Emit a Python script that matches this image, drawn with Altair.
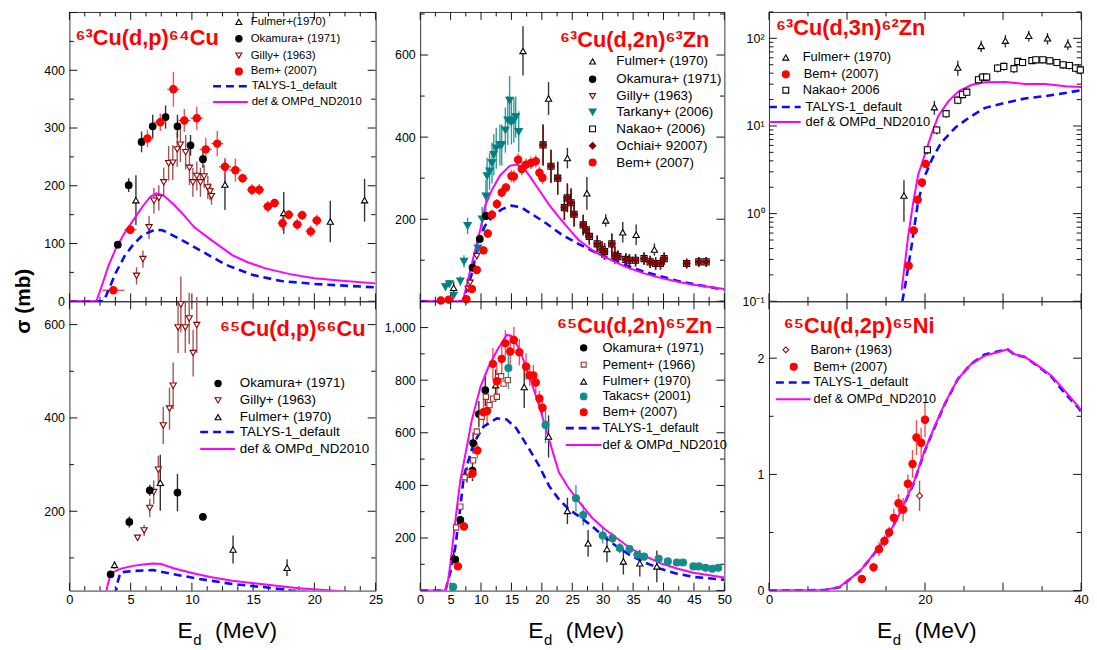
import altair as alt
import pandas as pd

FONT = "Liberation Sans"

# ---------------- Panel A : 63Cu(d,p)64Cu ----------------
A_ful_x = [5.43, 12.7, 17.5, 21.3, 24.1]
A_ful_y = [175, 202, 153, 138, 175]
A_ful_e = [43, 44, 36, 36, 37]
A_oka_x = [3.95, 4.84, 5.89, 6.8, 7.85, 8.82, 9.89, 10.9]
A_oka_y = [98, 201, 276, 303, 319, 303, 270, 246]
A_oka_e = [6, 12, 18, 20, 20, 20, 18, 15]
A_gil_x = [5.48, 6.0, 6.5, 6.9, 7.3, 7.7, 8.1, 8.44, 8.8, 9.06, 9.49, 9.8, 10.08, 10.4, 10.7, 11.0, 11.3, 11.48, 11.6]
A_gil_y = [44, 73, 128, 174, 179, 206, 239, 240, 263, 271, 258, 231, 206, 217, 206, 216, 197, 190, 182]
A_gil_e = [15, 15, 20, 22, 22, 25, 30, 30, 30, 30, 30, 30, 25, 25, 25, 20, 20, 15, 15]
A_bem_x = [3.58, 4.97, 6.37, 7.42, 8.49, 9.38, 10.4, 11.13, 12.07, 12.7, 13.55, 14.14, 14.9, 15.5, 16.2, 16.75, 17.4, 17.9, 18.6, 19.0, 19.7, 20.2]
A_bem_y = [19, 124, 282, 310, 367, 313, 317, 263, 273, 233, 227, 213, 193, 193, 164, 170, 135, 150, 133, 149, 121, 140]
A_bem_e = [6, 8, 15, 15, 30, 20, 20, 20, 22, 15, 20, 8, 10, 10, 10, 8, 12, 8, 10, 8, 10, 10]
A_bem_xe = [0.9, 0.5, 0.5, 0.5, 0.5, 0.5, 0.5, 0.5, 0.5, 0.5, 0.5, 0.4, 0.4, 0.4, 0.4, 0.4, 0.4, 0.4, 0.4, 0.4, 0.4, 0.4]
A_talys_x = [0, 2.8, 3.3, 3.8, 4.5, 5.2, 6.0, 7.0, 7.6, 9.0, 10.6, 12.8, 14.9, 17.3, 20, 25]
A_talys_y = [0, 0, 25, 50, 78, 98, 115, 124, 123, 108, 89, 63, 46, 35, 30, 24]
A_omp_x = [0, 2.2, 2.7, 3.2, 3.8, 4.5, 5.2, 6.0, 6.6, 7.1, 7.7, 8.5, 9.3, 10.2, 11.2, 12.3, 13.3, 14.5, 16, 18, 20, 22, 25]
A_omp_y = [0, 0, 30, 62, 92, 118, 140, 165, 181, 187, 183, 168, 150, 128, 112, 95, 80, 68, 57, 47, 40, 36, 31]

# ---------------- Panel D : 65Cu(d,p)66Cu ----------------
D_oka_x = [3.36, 4.89, 6.56, 8.82, 10.9]
D_oka_y = [65, 177, 245, 240, 188]
D_oka_e = [5, 12, 12, 40, 4]
D_gil_x = [5.56, 6.1, 6.56, 6.88, 7.26, 7.66, 8.17, 8.47, 8.87, 9.1, 9.46, 9.78, 10.1, 10.4]
D_gil_y = [143, 159, 207, 241, 289, 384, 420, 469, 594, 643, 594, 613, 539, 599]
D_gil_e = [5, 12, 20, 25, 30, 40, 45, 50, 55, 60, 55, 55, 50, 60]
D_ful_x = [3.68, 7.42, 13.36, 17.77]
D_ful_y = [85, 261, 118, 79]
D_ful_e = [8, 60, 30, 18]
D_talys_x = [3.75, 3.9, 4.17, 5.2, 6.85, 8.5, 10.6, 13.3, 16, 18.1, 20, 22, 25]
D_talys_y = [20, 45, 69, 72, 74, 65, 55, 44, 37, 30, 25, 20, 15]
D_omp_x = [2.95, 3.1, 3.3, 3.6, 4.2, 5.2, 6.0, 6.85, 7.5, 8.5, 10.1, 11.5, 13.3, 16, 18.7, 21.4, 23, 25]
D_omp_y = [20, 40, 58, 70, 77, 83, 86, 88, 87, 78, 67, 59, 51, 43, 35, 30, 27, 24]

# ---------------- Panel B : 63Cu(d,2n)63Zn ----------------
B_ful_x = [5.5, 16.9, 21.1, 24.2, 27.4, 30.5, 33.3, 35.5, 38.5]
B_ful_y = [33, 610, 494, 349, 263, 197, 168, 162, 126]
B_ful_e = [15, 60, 40, 25, 40, 15, 25, 25, 15]
B_oka_x = [8.6, 9.8, 10.8]
B_oka_y = [82, 152, 208]
B_oka_e = [10, 10, 10]
B_gil_x = [7.9, 8.2, 9.3]
B_gil_y = [30, 45, 110]
B_gil_e = [5, 5, 8]
B_tar_x = [4.15, 4.8, 5.5, 6.6, 7.2, 7.8, 9.5, 10.2, 10.8, 11.0, 11.4, 11.8, 12.1, 12.5, 13.1, 13.4, 14.0, 14.4, 14.7, 15.0, 15.4, 15.7, 16.2]
B_tar_y = [35, 42, 14, 49, 97, 184, 129, 200, 256, 305, 317, 337, 357, 373, 381, 381, 417, 441, 489, 437, 441, 449, 413]
B_tar_e = [10, 10, 8, 12, 15, 20, 20, 30, 40, 45, 45, 50, 50, 50, 50, 50, 55, 60, 60, 55, 55, 50, 50]
B_nak_x = [20.2, 21.5, 22.6, 23.7, 24.2, 24.8, 25.3, 26.8, 27.3, 27.8, 29.1, 29.9, 30.3, 31.5, 32.0, 32.5, 33.8, 34.4, 35.4, 36.8, 37.8, 38.7, 39.5, 40.1, 43.8, 45.8, 47.0]
B_nak_y = [381, 329, 300, 228, 252, 240, 212, 186, 174, 158, 140, 126, 121, 140, 112, 109, 102, 100, 100, 104, 96, 92, 92, 104, 92, 96, 96]
B_nak_e = [50, 40, 40, 30, 35, 35, 30, 25, 20, 20, 20, 20, 20, 25, 20, 15, 15, 15, 15, 15, 15, 15, 15, 15, 12, 12, 12]
B_och_x = [20.2, 21.5, 22.6, 23.7, 24.2, 24.8, 25.3, 26.8, 27.3, 27.8, 29.1, 29.9, 30.3, 31.5, 32.0, 32.5, 33.8, 34.4, 35.4, 36.8, 37.8, 38.7, 39.5, 40.1, 43.8, 45.8, 47.0]
B_och_y = [381, 329, 300, 228, 252, 240, 212, 186, 174, 158, 140, 126, 121, 140, 112, 109, 102, 100, 100, 104, 96, 92, 92, 104, 92, 96, 96]
B_och_e = [50, 40, 40, 30, 35, 35, 30, 25, 20, 20, 20, 20, 20, 25, 20, 15, 15, 15, 15, 15, 15, 15, 15, 15, 12, 12, 12]
B_bem_x = [3.4, 4.7, 7.6, 8.5, 9.3, 10.4, 11.1, 11.8, 12.6, 13.4, 14.1, 15.0, 15.4, 16.1, 16.7, 17.4, 18.2, 19.0, 19.6, 20.1]
B_bem_y = [2, 4, 5, 30, 76, 124, 165, 211, 237, 265, 277, 305, 304, 345, 322, 333, 337, 341, 313, 301]
B_bem_e = [3, 3, 3, 6, 8, 10, 10, 12, 12, 12, 12, 15, 15, 15, 15, 15, 15, 15, 15, 15]
B_talys_x = [0, 7.0, 8.6, 9.5, 10.7, 12.0, 13.4, 15.0, 16.6, 18.4, 20.7, 23.3, 26, 28.7, 31.4, 34.1, 36.8, 39.5, 42.2, 44.9, 50]
B_talys_y = [0, 0, 72, 145, 185, 209, 224, 233, 229, 212, 190, 162, 140, 120, 102, 86, 72, 61, 50, 42, 28]
B_omp_x = [0, 7.0, 7.9, 8.7, 9.9, 10.7, 11.8, 13.1, 14.7, 15.8, 17.0, 18.0, 19.6, 21.2, 22.8, 24.5, 26.0, 28.7, 31.4, 34.1, 36.8, 39.5, 42.2, 44.9, 50]
B_omp_y = [0, 0, 55, 104, 176, 234, 272, 306, 330, 333, 325, 305, 270, 235, 205, 175, 150, 120, 100, 82, 68, 57, 48, 40, 30]

# ---------------- Panel E : 65Cu(d,2n)65Zn ----------------
E_oka_x = [5.77, 6.6, 8.6, 8.7, 9.65, 10.7]
E_oka_y = [118, 269, 456, 561, 671, 762]
E_oka_e = [10, 15, 40, 40, 50, 60]
E_pem_x = [5.9, 6.6, 7.3, 8.0, 8.7, 9.3, 10.1, 10.8, 11.4, 12.0, 12.6, 12.8, 13.3, 13.7, 14.4]
E_pem_y = [240, 319, 431, 450, 495, 605, 661, 737, 705, 730, 737, 812, 815, 787, 800]
E_pem_e = [0, 0, 0, 0, 0, 0, 0, 0, 0, 0, 0, 0, 0, 0, 0]
E_ful_x = [5.5, 7.7, 12.4, 17.1, 21.1, 24.2, 27.6, 30.7, 33.4, 36.1, 38.9]
E_ful_y = [129, 441, 781, 774, 586, 303, 180, 158, 111, 104, 92]
E_ful_e = [25, 30, 60, 80, 80, 50, 50, 50, 50, 50, 60]
E_tak_x = [5.4, 14.5, 20.6, 25.6, 26.8, 30.0, 31.6, 32.8, 34.4, 35.7, 36.8, 39.2, 40.7, 42.2, 43.2, 44.9, 45.8, 46.9, 48.0, 49.0]
E_tak_y = [14, 846, 630, 351, 287, 209, 199, 162, 158, 136, 129, 121, 111, 107, 107, 92, 92, 87, 83, 87]
E_tak_e = [5, 80, 70, 50, 40, 30, 20, 20, 15, 15, 10, 10, 10, 10, 8, 8, 8, 8, 8, 8]
E_bem_x = [6.2, 7.2, 8.6, 9.4, 10.4, 11.0, 11.95, 12.6, 13.4, 14.0, 14.8, 15.4, 16.3, 17.4, 18.0, 18.6, 19.0, 19.6, 20.1]
E_bem_y = [92, 244, 445, 533, 678, 683, 862, 796, 881, 940, 909, 953, 906, 852, 818, 818, 791, 730, 695]
E_bem_e = [10, 15, 20, 30, 50, 50, 60, 60, 60, 50, 60, 50, 50, 50, 40, 40, 40, 30, 30]
E_talys_x = [0, 4.15, 4.96, 5.77, 6.6, 7.17, 8.8, 10.4, 12.6, 14.2, 15.8, 18.0, 19.6, 21.2, 22.8, 24.4, 26.0, 28.2, 30.3, 32.5, 34.6, 36.8, 39.5, 42.2, 44.9, 50]
E_talys_y = [0, 0, 70, 165, 316, 435, 561, 623, 655, 651, 617, 535, 472, 397, 347, 310, 284, 246, 202, 165, 133, 108, 83, 64, 52, 41]
E_omp_x = [0, 4.15, 4.6, 5.0, 5.4, 5.9, 6.6, 7.2, 8.5, 9.9, 11.2, 12.6, 14.2, 15.0, 16.3, 18.0, 19.6, 21.2, 22.8, 24.4, 26.0, 28.2, 30.3, 32.5, 34.6, 36.8, 39.5, 42.2, 44.9, 50]
E_omp_y = [0, 0, 40, 110, 190, 290, 420, 490, 650, 774, 849, 912, 972, 969, 919, 812, 699, 573, 450, 390, 341, 278, 234, 196, 160, 133, 104, 84, 68, 50]

# ---------------- Panel C : 63Cu(d,3n)62Zn (log) ----------------
C_ful_x = [17.3, 21.2, 24.2, 27.2, 30.3, 33.3, 35.7, 38.3]
C_ful_y = [1.61, 16.4, 46.5, 81.9, 94, 107, 100, 85.5]
C_ful_e = [0.8, 3, 9, 12, 15, 15, 15, 12]
C_bem_x = [17.9, 18.55, 19.06, 19.6, 20.1]
C_bem_y = [0.254, 0.643, 1.44, 2.26, 3.68]
C_bem_e = [0, 0, 0, 0, 0]
C_nak_x = [20.3, 21.5, 22.7, 24.2, 24.8, 25.35, 26.85, 27.4, 27.9, 29.3, 30.1, 31.4, 31.9, 32.5, 33.7, 34.2, 35.1, 36.0, 36.9, 37.7, 38.5, 39.3, 39.9]
C_nak_y = [5.35, 9.0, 13.8, 19.7, 22.8, 24.3, 33.7, 36.1, 36.1, 45.7, 47.8, 45, 54.5, 53, 55.8, 56.9, 56.9, 55.4, 53, 49.9, 49, 45.7, 43.6]
C_nak_e = [0.6, 1, 1.5, 2, 2, 2, 4, 4, 4, 5, 5, 5, 5, 5, 5, 5, 5, 5, 5, 5, 5, 5, 5]
C_talys_x = [17.1, 17.6, 18.3, 19.1, 20.0, 20.9, 22.1, 23.9, 25.6, 27.7, 30.3, 32.8, 35.4, 38.0, 40]
C_talys_y = [0.1, 0.18, 0.44, 1.36, 2.72, 4.2, 6.5, 9.6, 12.4, 16.1, 18.4, 20.6, 21.9, 23.8, 25.6]
C_omp_x = [17.0, 17.4, 17.86, 18.5, 19.1, 20.0, 20.9, 21.7, 23.0, 24.3, 26.0, 27.7, 30.3, 32.8, 35.4, 38.0, 40]
C_omp_y = [0.135, 0.26, 0.57, 1.36, 2.72, 4.8, 8.4, 13, 19.2, 24.9, 29.5, 31.5, 31.8, 30.1, 30.1, 28.4, 27.9]

# ---------------- Panel F : 65Cu(d,2p)65Ni ----------------
F_bar_x = [19.3]
F_bar_y = [0.816]
F_bar_e = [0.13]
F_bem_x = [11.9, 13.4, 14.1, 14.8, 15.4, 16.0, 16.6, 17.2, 17.8, 18.4, 18.9, 19.5, 20.0]
F_bem_y = [0.10, 0.20, 0.355, 0.427, 0.50, 0.626, 0.751, 0.697, 0.919, 1.09, 1.317, 1.272, 1.47]
F_bem_e = [0.02, 0.04, 0.06, 0.05, 0.05, 0.08, 0.08, 0.1, 0.08, 0.12, 0.15, 0.13, 0.15]
F_talys_x = [0, 7.2, 9.1, 11.7, 13.4, 15.2, 16.9, 18.6, 19.9, 21.2, 22.5, 24.2, 25.9, 27.6, 29.4, 30.6, 31.5, 32.8, 34.5, 36.2, 37.9, 39.7, 40]
F_talys_y = [0, 0.005, 0.03, 0.17, 0.31, 0.47, 0.68, 0.93, 1.19, 1.40, 1.60, 1.82, 1.95, 2.03, 2.06, 2.075, 2.03, 2.01, 1.93, 1.84, 1.70, 1.57, 1.54]
F_omp_x = [0, 7.2, 9.1, 11.7, 13.4, 15.2, 16.9, 18.6, 19.9, 21.2, 22.5, 24.2, 25.9, 27.6, 29.4, 30.6, 31.5, 32.8, 34.5, 36.2, 37.9, 39.7, 40]
F_omp_y = [0, 0.006, 0.034, 0.17, 0.313, 0.469, 0.683, 0.939, 1.195, 1.408, 1.607, 1.82, 1.949, 2.02, 2.054, 2.077, 2.034, 2.011, 1.934, 1.849, 1.721, 1.579, 1.55]

# marker styles: shape, fill, stroke, size ; error-bar colour
STYLE = {
    "Fulmer": ("triangle-up", "white", "black", 40),
    "Okamura": ("circle", "black", "black", 45),
    "Gilly": ("triangle-down", "white", "#8b0000", 40),
    "Bem": ("circle", "#ff0000", "#ff0000", 55),
    "Tarkany": ("triangle-down", "#008080", "#008080", 55),
    "Nakao": ("square", "white", "black", 38),
    "Ochiai": ("diamond", "#800000", "#800000", 45),
    "Pement": ("square", "white", "#a0302a", 28),
    "Takacs": ("circle", "#138c8a", "#138c8a", 50),
    "Baron": ("diamond", "white", "#8b0000", 38),
}
ERRC = {"Fulmer": "#333333", "Okamura": "#333333", "Gilly": "#a65555", "Bem": "#ff4d4d",
        "Tarkany": "#2e9a9a", "Nakao": "#333333", "Ochiai": "#800000", "Pement": "#a0302a",
        "Takacs": "#3aa0a0", "Baron": "#a65555"}
BLUE = "#0a0aff"
MAG = "#ff00ff"
TICKC = "#111111"


def label_axis_layer(cfg, xs, ys):
    d = pd.DataFrame({"x": [cfg["xdom"][0]], "y": [cfg["ydom"][0]]})
    base = alt.Chart(d).mark_point(opacity=0)
    if cfg["xlabels"]:
        xlab = alt.Axis(orient="bottom", values=cfg["xlabels"], ticks=False, tickSize=0, domain=False,
                        grid=False, labelPadding=3, labelFontSize=13, labelFont=FONT, labelColor="black",
                        labelFlush=False, labelOverlap=False, title=None)
    else:
        xlab = None
    ykw = dict(orient="left", values=cfg["ylabels"], ticks=False, tickSize=0, domain=False, grid=False,
               labelPadding=5, labelFontSize=12.5, labelFont=FONT, labelColor="black",
               labelFlush=False, labelOverlap=False, title=None)
    if cfg.get("ylabelexpr"):
        ykw["labelExpr"] = cfg["ylabelexpr"]
    return base.encode(x=alt.X("x:Q", scale=xs, axis=xlab),
                       y=alt.Y("y:Q", scale=ys, axis=alt.Axis(**ykw)))


def tick_layers(cfg, xs, ys):
    """Inward ticks on all four sides, drawn as rules through the data scales."""
    w, h = cfg["w"], cfg["h"]
    x0, x1 = cfg["xdom"]
    y0, y1 = cfg["ydom"]
    ylog = cfg.get("ylog", False)

    def ystep(base, frac, up):
        if ylog:
            r = (y1 / y0) ** frac
            return base * r if up else base / r
        d = (y1 - y0) * frac
        return base + d if up else base - d

    xr, yr = [], []
    for vals, ln in ((cfg["xmaj"], 8), (cfg["xmin"], 4.5)):
        f = ln / h
        for v in vals:
            xr.append({"v": v, "a": y0, "b": ystep(y0, f, True)})
            xr.append({"v": v, "a": y1, "b": ystep(y1, f, False)})
    for vals, ln in ((cfg["ymaj"], 8), (cfg["ymin"], 4.5)):
        d = (x1 - x0) * ln / w
        for v in vals:
            yr.append({"v": v, "a": x0, "b": x0 + d})
            yr.append({"v": v, "a": x1, "b": x1 - d})
    lx = alt.Chart(pd.DataFrame(xr)).mark_rule(color=TICKC, strokeWidth=1).encode(
        x=alt.X("v:Q", scale=xs, axis=None), y=alt.Y("a:Q", scale=ys, axis=None), y2="b:Q")
    ly = alt.Chart(pd.DataFrame(yr)).mark_rule(color=TICKC, strokeWidth=1).encode(
        y=alt.Y("v:Q", scale=ys, axis=None), x=alt.X("a:Q", scale=xs, axis=None), x2="b:Q")
    return [lx, ly]


def text_layer(rows, fs, color="black", weight="normal", align="left", baseline="middle", angle=None):
    df = pd.DataFrame(rows, columns=["label", "px", "py"])
    kw = dict(align=align, baseline=baseline, font=FONT, fontSize=fs, color=color, fontWeight=weight)
    if angle is not None:
        kw["angle"] = angle
    return alt.Chart(df).mark_text(**kw).encode(
        x=alt.X("px:Q", scale=None), y=alt.Y("py:Q", scale=None), text="label:N")


def build_panel(cfg):
    ylog = cfg.get("ylog", False)
    xs = alt.Scale(domain=cfg["xdom"], nice=False, zero=False)
    if ylog:
        ys = alt.Scale(domain=cfg["ydom"], type="log", nice=False)
    else:
        ys = alt.Scale(domain=cfg["ydom"], nice=False, zero=False)
    ymin_floor = cfg["ydom"][0] * 1.01 if ylog else -1e9
    layers = [label_axis_layer(cfg, xs, ys)]
    layers += tick_layers(cfg, xs, ys)

    # vertical error bars
    erows = []
    for name, xv, yv, ev in cfg["series"]:
        for a, b, e in zip(xv, yv, ev):
            if e > 0:
                erows.append({"x": a, "lo": max(b - e, ymin_floor), "hi": b + e, "c": ERRC[name]})
    if erows:
        layers.append(alt.Chart(pd.DataFrame(erows)).mark_rule(strokeWidth=1.4).encode(
            x=alt.X("x:Q", scale=xs, axis=None), y=alt.Y("lo:Q", scale=ys, axis=None), y2="hi:Q",
            color=alt.Color("c:N", scale=None)))
    # horizontal error bars
    if cfg.get("xerr"):
        name, xv, yv, xe = cfg["xerr"]
        hd = pd.DataFrame({"lo": [a - e for a, e in zip(xv, xe)], "hi": [a + e for a, e in zip(xv, xe)], "y": yv})
        layers.append(alt.Chart(hd).mark_rule(strokeWidth=1.4, color=ERRC[name]).encode(
            x=alt.X("lo:Q", scale=xs, axis=None), x2="hi:Q", y=alt.Y("y:Q", scale=ys, axis=None)))

    # model curves
    tx, ty, mx, my = cfg["curves"]
    layers.append(alt.Chart(pd.DataFrame({"x": tx, "y": ty})).mark_line(
        clip=True, color=BLUE, strokeDash=[8, 5], strokeWidth=2.6).encode(
        x=alt.X("x:Q", scale=xs, axis=None), y=alt.Y("y:Q", scale=ys, axis=None)))
    layers.append(alt.Chart(pd.DataFrame({"x": mx, "y": my})).mark_line(
        clip=True, color=MAG, strokeWidth=2).encode(
        x=alt.X("x:Q", scale=xs, axis=None), y=alt.Y("y:Q", scale=ys, axis=None)))

    # data points
    prow = []
    for name, xv, yv, ev in cfg["series"]:
        shp, fill, stroke, size = STYLE[name]
        for a, b in zip(xv, yv):
            prow.append({"x": a, "y": b, "shape": shp, "fill": fill, "stroke": stroke, "size": size})
    layers.append(alt.Chart(pd.DataFrame(prow)).mark_point(opacity=1, fillOpacity=1, strokeWidth=1.1).encode(
        x=alt.X("x:Q", scale=xs, axis=None), y=alt.Y("y:Q", scale=ys, axis=None),
        shape=alt.Shape("shape:N", scale=None), fill=alt.Fill("fill:N", scale=None),
        stroke=alt.Stroke("stroke:N", scale=None), size=alt.Size("size:Q", scale=None)))

    # legend
    lg = cfg["legend"]
    mrows = []
    for name, px, py in lg["markers"]:
        shp, fill, stroke, size = STYLE[name]
        mrows.append({"px": px, "py": py, "shape": shp, "fill": fill, "stroke": stroke, "size": size * 0.9})
    layers.append(alt.Chart(pd.DataFrame(mrows)).mark_point(opacity=1, fillOpacity=1, strokeWidth=1.1).encode(
        x=alt.X("px:Q", scale=None), y=alt.Y("py:Q", scale=None),
        shape=alt.Shape("shape:N", scale=None), fill=alt.Fill("fill:N", scale=None),
        stroke=alt.Stroke("stroke:N", scale=None), size=alt.Size("size:Q", scale=None)))
    for kind, x1, x2, py in lg["lines"]:
        ld = pd.DataFrame({"x1": [x1], "x2": [x2], "py": [py]})
        if kind == "talys":
            mk = alt.Chart(ld).mark_rule(color=BLUE, strokeDash=[8, 5], strokeWidth=2.6)
        else:
            mk = alt.Chart(ld).mark_rule(color=MAG, strokeWidth=2)
        layers.append(mk.encode(x=alt.X("x1:Q", scale=None), x2="x2:Q", y=alt.Y("py:Q", scale=None)))
    layers.append(text_layer(lg["texts"], lg["fs"]))

    # reaction title
    t, tx0, ty0 = cfg["title"]
    layers.append(text_layer([(t, tx0, ty0)], 22, color="#ff0000", weight="bold", baseline="alphabetic"))

    # axis titles
    h = cfg["h"]
    if cfg.get("xtitle"):
        unit = cfg["xtitle"]
        layers.append(text_layer([("E", 109, h + 48)], 23, baseline="alphabetic"))
        layers.append(text_layer([("d", 125, h + 55)], 15, baseline="alphabetic"))
        layers.append(text_layer([(unit, 147, h + 48)], 23, baseline="alphabetic"))
    if cfg.get("ytitle"):
        layers.append(text_layer([("σ  (mb)", -46, 0)], 21, weight="bold", align="center",
                                 baseline="middle", angle=270))

    return alt.layer(*layers).resolve_axis(x="independent", y="independent").properties(
        width=cfg["w"], height=cfg["h"])


def rng(a, b, s):
    out = []
    v = a
    while v <= b + 1e-9:
        out.append(round(v, 4))
        v += s
    return out


x25_lab = rng(0, 25, 5)
x25_min = [v for v in rng(0, 25, 1.25) if v not in x25_lab]
x50_lab = rng(0, 50, 5)
x50_min = [v for v in rng(0, 50, 2.5) if v not in x50_lab]
x40_lab = [0, 20, 40]
x40_maj = rng(0, 40, 10)
x40_min = [5, 15, 25, 35]
log_min = [k * 10 ** d for d in (-1, 0, 1) for k in range(2, 10)] + [200]

LEG_LINES = ["TALYS-1_default", "def & OMPd_ND2010"]

cfgA = dict(w=309, h=292, xdom=[0, 25], ydom=[0, 501],
            series=[("Gilly", A_gil_x, A_gil_y, A_gil_e), ("Fulmer", A_ful_x, A_ful_y, A_ful_e),
                    ("Okamura", A_oka_x, A_oka_y, A_oka_e), ("Bem", A_bem_x, A_bem_y, A_bem_e)],
            xerr=("Bem", A_bem_x, A_bem_y, A_bem_xe),
            curves=(A_talys_x, A_talys_y, A_omp_x, A_omp_y),
            legend=dict(fs=11.5,
                        markers=[("Fulmer", 171, 10), ("Okamura", 171, 27), ("Gilly", 171, 44), ("Bem", 171, 60)],
                        lines=[("talys", 145, 180, 75), ("omp", 145, 180, 91)],
                        texts=[("Fulmer+(1970)", 183, 10), ("Okamura+ (1971)", 183, 27), ("Gilly+ (1963)", 183, 44),
                               ("Bem+ (2007)", 183, 60), (LEG_LINES[0], 184, 75), (LEG_LINES[1], 184, 91)]),
            title=("⁶³Cu(d,p)⁶⁴Cu", 6, 33),
            xlabels=None, ylabels=[0, 100, 200, 300, 400],
            xmaj=x25_lab, xmin=x25_min, ymaj=rng(0, 500, 100), ymin=rng(50, 450, 100))

cfgD = dict(w=309, h=292, xdom=[0, 25], ydom=[30, 650],
            series=[("Gilly", D_gil_x, D_gil_y, D_gil_e), ("Fulmer", D_ful_x, D_ful_y, D_ful_e),
                    ("Okamura", D_oka_x, D_oka_y, D_oka_e)],
            curves=(D_talys_x, D_talys_y, D_omp_x, D_omp_y),
            legend=dict(fs=13.5,
                        markers=[("Okamura", 150, 83), ("Gilly", 150, 100), ("Fulmer", 150, 117)],
                        lines=[("talys", 132, 167, 132), ("omp", 132, 167, 149)],
                        texts=[("Okamura+ (1971)", 172, 83), ("Gilly+ (1963)", 172, 100), ("Fulmer+ (1970)", 172, 117),
                               (LEG_LINES[0], 172, 132), (LEG_LINES[1], 172, 149)]),
            title=("⁶⁵Cu(d,p)⁶⁶Cu", 152, 35),
            xlabels=x25_lab, ylabels=[200, 400, 600],
            xmaj=x25_lab, xmin=x25_min, ymaj=[200, 400, 600], ymin=[100, 300, 500],
            xtitle="(MeV)", ytitle=True)

cfgB = dict(w=307, h=292, xdom=[0, 50], ydom=[0, 705],
            series=[("Fulmer", B_ful_x, B_ful_y, B_ful_e), ("Tarkany", B_tar_x, B_tar_y, B_tar_e),
                    ("Gilly", B_gil_x, B_gil_y, B_gil_e), ("Okamura", B_oka_x, B_oka_y, B_oka_e),
                    ("Nakao", B_nak_x, B_nak_y, B_nak_e), ("Ochiai", B_och_x, B_och_y, B_och_e),
                    ("Bem", B_bem_x, B_bem_y, B_bem_e)],
            curves=(B_talys_x, B_talys_y, B_omp_x, B_omp_y),
            legend=dict(fs=13.5,
                        markers=[("Fulmer", 174, 50), ("Okamura", 174, 68), ("Gilly", 174, 85), ("Tarkany", 174, 101),
                                 ("Nakao", 174, 118), ("Ochiai", 174, 135), ("Bem", 174, 152)],
                        lines=[],
                        texts=[("Fulmer+ (1970)", 198, 50), ("Okamura+ (1971)", 198, 68), ("Gilly+ (1963)", 198, 85),
                               ("Tarkany+ (2006)", 198, 101), ("Nakao+ (2006)", 198, 118),
                               ("Ochiai+ 92007)", 198, 135), ("Bem+ (2007)", 198, 152)]),
            title=("⁶³Cu(d,2n)⁶³Zn", 141, 35),
            xlabels=None, ylabels=[200, 400, 600],
            xmaj=x50_lab, xmin=x50_min, ymaj=[0, 200, 400, 600], ymin=[100, 300, 500, 700])

cfgE = dict(w=307, h=292, xdom=[0, 50], ydom=[0, 1100],
            series=[("Fulmer", E_ful_x, E_ful_y, E_ful_e), ("Takacs", E_tak_x, E_tak_y, E_tak_e),
                    ("Okamura", E_oka_x, E_oka_y, E_oka_e), ("Pement", E_pem_x, E_pem_y, E_pem_e),
                    ("Bem", E_bem_x, E_bem_y, E_bem_e)],
            curves=(E_talys_x, E_talys_y, E_omp_x, E_omp_y),
            legend=dict(fs=13,
                        markers=[("Okamura", 165, 47), ("Pement", 165, 64), ("Fulmer", 165, 81), ("Takacs", 165, 96),
                                 ("Bem", 165, 112)],
                        lines=[("talys", 147, 183, 128), ("omp", 147, 183, 145)],
                        texts=[("Okamura+ (1971)", 184, 47), ("Pement+ (1966)", 184, 64), ("Fulmer+ (1970)", 184, 81),
                               ("Takacs+ (2001)", 184, 96), ("Bem+ (2007)", 184, 112),
                               (LEG_LINES[0], 184, 128), (LEG_LINES[1], 184, 145)]),
            title=("⁶⁵Cu(d,2n)⁶⁵Zn", 138, 32),
            xlabels=x50_lab, ylabels=[200, 400, 600, 800, 1000],
            xmaj=x50_lab, xmin=x50_min, ymaj=rng(0, 1000, 200), ymin=rng(100, 1100, 200),
            xtitle="(Mev)")

cfgC = dict(w=315, h=292, xdom=[0, 40], ydom=[0.1, 200], ylog=True,
            series=[("Fulmer", C_ful_x, C_ful_y, C_ful_e), ("Nakao", C_nak_x, C_nak_y, C_nak_e),
                    ("Bem", C_bem_x, C_bem_y, C_bem_e)],
            curves=(C_talys_x, C_talys_y, C_omp_x, C_omp_y),
            legend=dict(fs=13,
                        markers=[("Fulmer", 17, 46), ("Bem", 17, 63), ("Nakao", 17, 79)],
                        lines=[("talys", 0, 32, 96), ("omp", 0, 32, 111)],
                        texts=[("Fulmer+ (1970)", 34, 46), ("Bem+ (2007)", 35, 63), ("Nakao+ 2006", 34, 79),
                               (LEG_LINES[0], 37, 96), (LEG_LINES[1], 37, 111)]),
            title=("⁶³Cu(d,3n)⁶²Zn", 7, 23),
            xlabels=None, ylabels=[0.1, 1, 10, 100],
            ylabelexpr="datum.value > 50 ? '10²' : datum.value > 5 ? '10¹' : datum.value > 0.5 ? '10⁰' : '10⁻¹'",
            xmaj=x40_maj, xmin=x40_min, ymaj=[0.1, 1, 10, 100], ymin=log_min)

cfgF = dict(w=315, h=292, xdom=[0, 40], ydom=[0, 2.49],
            series=[("Baron", F_bar_x, F_bar_y, F_bar_e), ("Bem", F_bem_x, F_bem_y, F_bem_e)],
            curves=(F_talys_x, F_talys_y, F_omp_x, F_omp_y),
            legend=dict(fs=12.8,
                        markers=[("Baron", 17, 49), ("Bem", 25, 66)],
                        lines=[("talys", 7, 42, 82), ("omp", 7, 42, 99)],
                        texts=[("Baron+ (1963)", 42, 49), ("Bem+ (2007)", 45, 66),
                               (LEG_LINES[0], 45, 82), (LEG_LINES[1], 45, 99)]),
            title=("⁶⁵Cu(d,2p)⁶⁵Ni", 15, 32),
            xlabels=x40_lab, ylabels=[0, 1, 2],
            xmaj=x40_maj, xmin=x40_min, ymaj=[0, 1, 2], ymin=[0.5, 1.5],
            xtitle="(MeV)")

panels = [build_panel(c) for c in (cfgA, cfgB, cfgC, cfgD, cfgE, cfgF)]

chart = alt.concat(*panels, columns=3, spacing={"row": 0, "column": 45}, bounds="flush").properties(
    padding={"left": 4, "top": 0, "right": 0, "bottom": 0}
).configure_view(stroke="#333333", strokeWidth=1)

chart.save("out.html", embed_options={"renderer": "svg", "actions": False})
